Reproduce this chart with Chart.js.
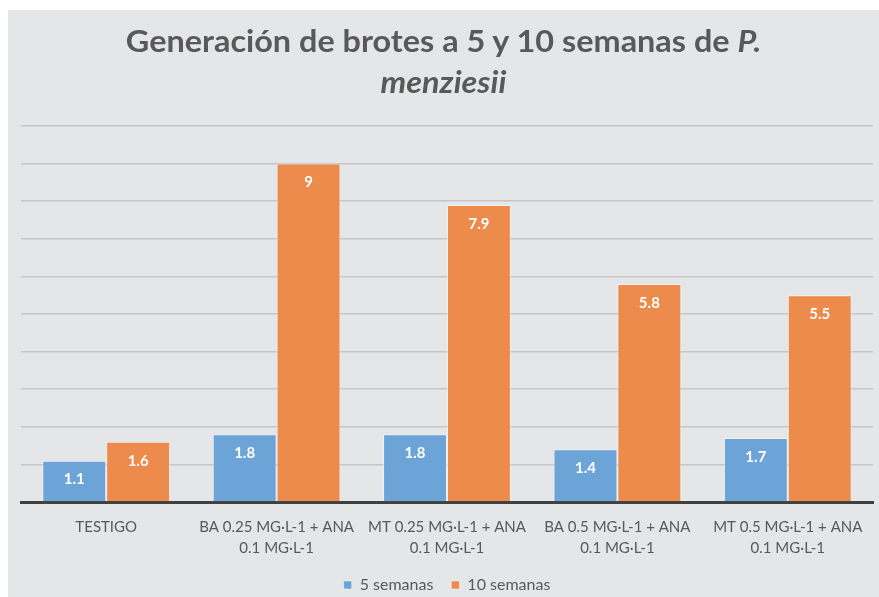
<!DOCTYPE html>
<html>
<head>
<meta charset="utf-8">
<script src="https://cdn.jsdelivr.net/npm/chart.js@4/dist/chart.umd.min.js"></script>
<style>
  html, body { margin:0; padding:0; background:#ffffff; }
  #wrap { position:absolute; left:8px; top:10px; width:871px; height:587px; background:#e5e6e8; overflow:hidden; }
  #title { position:absolute; left:0; top:10px; width:100%; text-align:center; font-family:Lato, "Open Sans", sans-serif; font-weight:bold; font-size:30px; line-height:41px; color:#595959; transform:scaleX(1.08); transform-origin:center; }
  canvas { position:absolute; left:0; top:0; }
</style>
</head>
<body>
<div id="wrap">
  <canvas id="c" width="871" height="593"></canvas>
  <div id="title">Generación de brotes a 5 y 10 semanas de <i>P.</i><br><i>menziesii</i></div>
</div>
<script>
const categories = [
  "TESTIGO",
  ["BA 0.25 MG·L-1 + ANA", "0.1 MG·L-1"],
  ["MT 0.25 MG·L-1 + ANA", "0.1 MG·L-1"],
  ["BA 0.5 MG·L-1 + ANA", "0.1 MG·L-1"],
  ["MT 0.5 MG·L-1 + ANA", "0.1 MG·L-1"]
];
const seriesNames = ["5 semanas", "10 semanas"];
const semanas5 = [1.1, 1.8, 1.8, 1.4, 1.7];
const semanas10 = [1.6, 9, 7.9, 5.8, 5.5];

const FONT = 'Lato, "Open Sans", sans-serif';

const valueLabels = {
  id: 'valueLabels',
  afterDatasetsDraw(chart) {
    const ctx = chart.ctx;
    ctx.save();
    ctx.fillStyle = '#ffffff';
    ctx.font = 'bold 15px ' + FONT;
    ctx.textAlign = 'center';
    ctx.textBaseline = 'middle';
    chart.data.datasets.forEach((ds, i) => {
      const meta = chart.getDatasetMeta(i);
      meta.data.forEach((el, j) => {
        ctx.fillText(String(ds.data[j]), el.x, el.y + 19);
      });
    });
    ctx.restore();
  }
};

new Chart(document.getElementById('c'), {
  type: 'bar',
  data: {
    labels: categories,
    datasets: [
      { label: seriesNames[0], data: semanas5, backgroundColor: '#6ca4d7', borderColor: 'rgba(255,255,255,0.45)', borderWidth: 1, categoryPercentage: 0.75, barPercentage: 1.0 },
      { label: seriesNames[1], data: semanas10, backgroundColor: '#ec8b4b', borderColor: 'rgba(255,255,255,0.45)', borderWidth: 1, categoryPercentage: 0.75, barPercentage: 1.0 }
    ]
  },
  options: {
    responsive: false,
    devicePixelRatio: 1,
    animation: false,
    layout: { padding: { left: 13, right: 6, top: 116, bottom: 0 } },
    plugins: {
      title: { display: false },
      tooltip: { enabled: false },
      legend: {
        position: 'bottom',
        labels: {
          boxWidth: 8, boxHeight: 8, padding: 18,
          color: '#595959',
          font: { family: FONT, size: 16 }
        }
      }
    },
    scales: {
      x: {
        grid: { display: false, drawTicks: false },
        border: { display: true, color: '#404040', width: 3 },
        ticks: { color: '#595959', padding: 15, maxRotation: 0, autoSkip: false,
          font: { family: FONT, size: 15, lineHeight: 1.4 } },
        afterFit(axis) { axis.height -= 15; }
      },
      y: {
        min: 0, max: 10,
        ticks: { display: false, stepSize: 1 },
        grid: { color: '#c6c6c8', lineWidth: 1.5, drawTicks: false },
        border: { display: false }
      }
    }
  },
  plugins: [valueLabels]
});
</script>
</body>
</html>
